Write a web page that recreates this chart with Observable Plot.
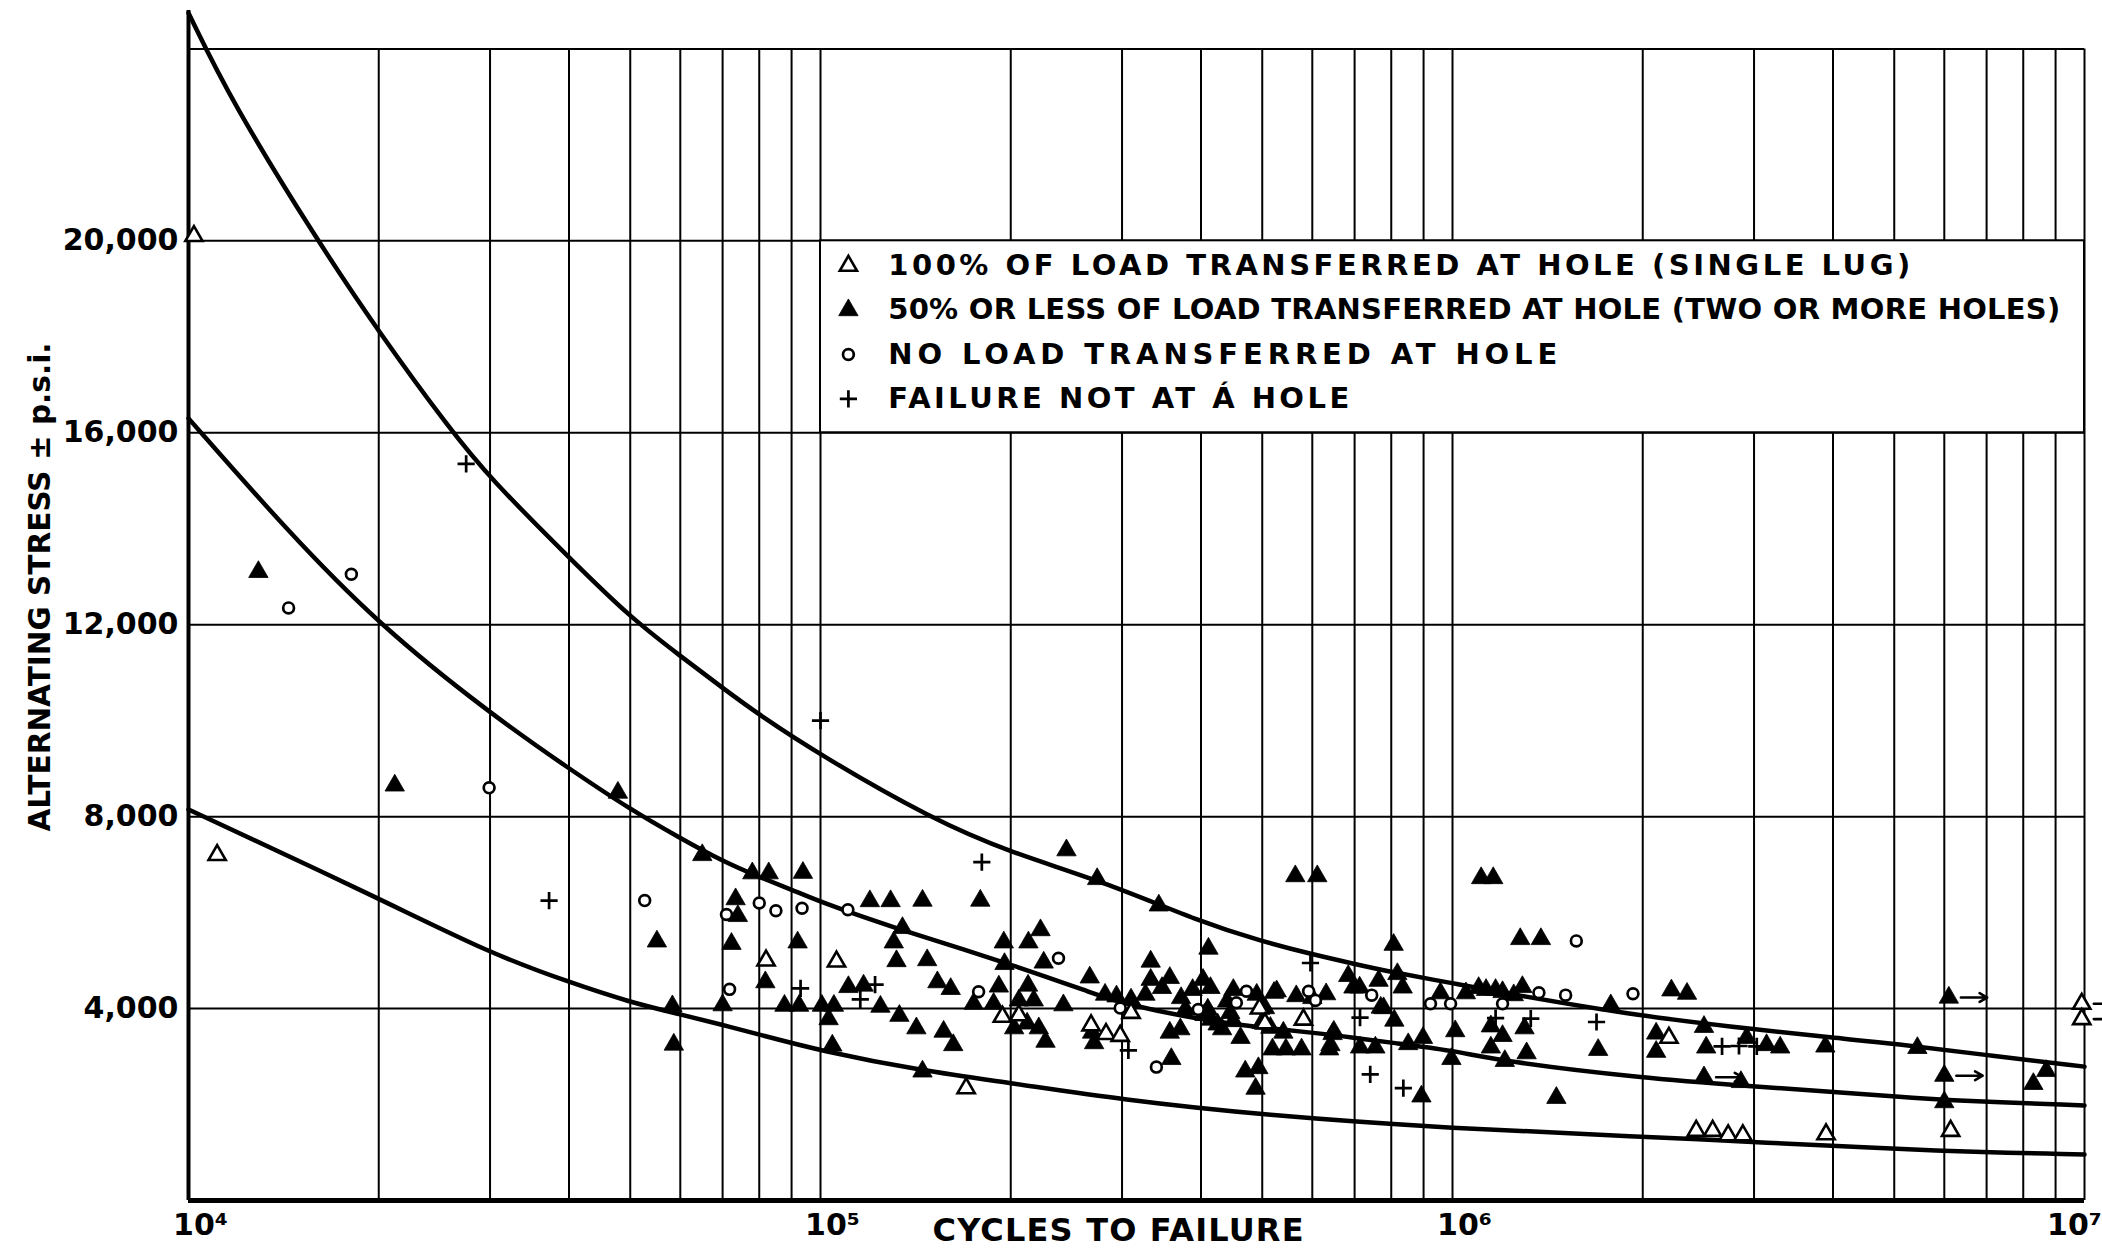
<!DOCTYPE html>
<html><head><meta charset="utf-8">
<script src="https://cdn.jsdelivr.net/npm/d3@7"></script>
<script src="https://cdn.jsdelivr.net/npm/@observablehq/plot@0.6"></script>
<style>
html,body{margin:0;padding:0;background:#fff;}
#chart{width:2102px;height:1256px;overflow:hidden;}
</style></head><body><div id="chart"></div>
<script>
// ---------- DATA ----------
const xTickValues = [1e4, 1e5, 1e6, 1e7];
const xTickLabels = ["10⁴", "10⁵", "10⁶", "10⁷"];
const yTickValues = [4000, 8000, 12000, 16000, 20000];
const yTickLabels = ["4,000", "8,000", "12,000", "16,000", "20,000"];
const gridDecades = [1e4, 1e5, 1e6];
const gridMultipliers = [1, 2, 3, 4, 5, 6, 7, 8, 9];
const gridStress = [4000, 8000, 12000, 16000, 20000, 24000];
const xLabel = "CYCLES TO FAILURE";
const yLabel = "ALTERNATING STRESS ± p.s.i.";
const legendLabels = [
  "100% OF LOAD TRANSFERRED AT HOLE (SINGLE LUG)",
  "50% OR LESS OF LOAD TRANSFERRED AT HOLE (TWO OR MORE HOLES)",
  "NO LOAD TRANSFERRED AT HOLE",
  "FAILURE NOT AT Á HOLE"
];
const legendKinds = ["openTriangle", "filledTriangle", "openCircle", "plus"];

// curves: [cycles, stress]
const upperCurve = [[1e4,24750],[1.17e4,22900],[1.6e4,20000],[2e4,18100],[2.6e4,16050],[3e4,15050],[4e4,13400],[5e4,12150],[6e4,11350],[7e4,10680],[8e4,10120],[1e5,9280],[1.5e5,7950],[2e5,7250],[2.8e5,6650],[4e5,5800],[5e5,5400],[6e5,5130],[7e5,4930],[8e5,4760],[1e6,4530],[1.2e6,4330],[2e6,3830],[3e6,3570],[4e6,3390],[5e6,3270],[7e6,3030],[1e7,2790]];
const middleCurve = [[1e4,16300],[1.43e4,13970],[2e4,12000],[3e4,10150],[4e4,9000],[5e4,8150],[6e4,7550],[7e4,7070],[8e4,6740],[9e4,6480],[1e5,6220],[1.3e5,5690],[2e5,4930],[2.75e5,4280],[3e5,4110],[4e5,3760],[5e5,3600],[6e5,3500],[7e5,3390],[8e5,3290],[1e6,3130],[1.2e6,2900],[2e6,2550],[3e6,2380],[4e6,2260],[5e6,2170],[6e6,2090],[1e7,1980]];
const lowerCurve = [[1e4,8150],[2e4,6300],[3e4,5150],[4e4,4550],[5e4,4130],[6e4,3880],[7e4,3660],[8e4,3460],[1e5,3120],[1.45e5,2700],[2e5,2450],[3e5,2100],[5e5,1780],[1e6,1500],[2e6,1330],[3e6,1220],[6e6,1020],[1e7,960]];

// points: [cycles, stress]
const openTriangles = [[10200,20100],[11100,7200],[82000,5000],[106000,4980],[170000,2340],[194000,3830],[206000,3860],[268000,3650],[283000,3470],[298000,3430],[310000,3910],[495000,4000],[505000,3690],[581000,3770],[2200000,3390],[2430000,1450],[2580000,1450],[2730000,1360],[2880000,1360],[3900000,1380],[6140000,1450],[9900000,4100],[9900000,3780]];
const filledTriangles = [[12900,13100],[21200,8650],[47800,8500],[55100,5400],[58300,4050],[58600,3250],[65000,7200],[72300,5350],[73400,6280],[74000,5930],[70000,4070],[78000,6820],[82800,6820],[81800,4550],[87700,4060],[92500,4060],[92000,5380],[93800,6830],[100500,4060],[103000,3780],[104400,3230],[105000,4060],[110700,4450],[117000,4480],[119700,6240],[124400,4040],[129100,6240],[130600,5380],[131900,4990],[133300,3850],[134800,5680],[141800,3590],[145000,6250],[145000,2690],[147500,5010],[153100,4550],[156600,3520],[160700,4410],[162200,3240],[174700,4100],[179000,6250],[187900,4100],[191500,4460],[195000,5380],[195500,4930],[202500,3590],[206000,4170],[212300,3690],[213300,5380],[213000,4480],[217500,4170],[221500,3590],[222900,5635],[225500,4960],[227000,3310],[242300,4070],[245000,7300],[266700,4650],[269000,3500],[271000,3280],[274000,6700],[282000,4290],[294000,4255],[310000,4190],[326700,4290],[333000,4600],[333000,4980],[343000,6150],[347000,4430],[357000,4640],[357000,3500],[359000,2950],[371000,3570],[372000,4220],[378000,3980],[388000,4390],[403000,4600],[405000,3870],[410000,3980],[411000,5250],[414000,4430],[415000,3770],[425000,3670],[432000,3570],[440000,4150],[445000,3910],[450000,3740],[450000,4390],[462000,3390],[470000,2690],[488000,2330],[490000,4290],[493000,2760],[499000,3700],[505000,4010],[515000,3600],[519000,3150],[522000,4330],[527000,4360],[540000,3500],[545000,3150],[564000,6760],[566000,4260],[577000,3150],[600000,4220],[611000,6760],[631000,4300],[638000,3150],[641000,3240],[646000,3470],[649000,3520],[684000,4680],[697000,4440],[713000,4440],[714000,3190],[755000,3190],[764000,4580],[770000,4020],[778000,4010],[807000,5330],[809000,3750],[818000,4720],[834000,4440],[851000,3260],[893000,2170],[898000,3390],[957000,4320],[996000,2950],[1010000,3530],[1050000,4320],[1100000,4430],[1110000,6720],[1130000,4390],[1150000,3630],[1150000,3190],[1160000,6720],[1170000,4390],[1200000,3430],[1200000,4345],[1210000,2910],[1250000,4280],[1280000,5450],[1290000,4450],[1300000,3590],[1310000,3070],[1380000,5450],[1460000,2140],[1700000,3140],[1780000,4070],[2100000,3480],[2100000,3100],[2220000,4380],[2350000,4310],[2500000,3620],[2520000,3190],[2500000,2570],[2860000,2470],[2920000,3390],[3140000,3240],[3300000,3190],[3890000,3210],[5440000,3180],[6100000,4230],[6000000,2600],[6000000,2050],[8300000,2430],[8700000,2700]];
const openCircles = [[14400,12350],[18100,13050],[29900,8600],[52700,6250],[71000,5960],[71800,4400],[80000,6200],[85000,6040],[93500,6090],[110500,6060],[177900,4350],[238000,5050],[298000,4010],[340000,2780],[396000,3980],[455000,4120],[472000,4360],[592000,4360],[607000,4170],[745000,4280],[923000,4100],[993000,4100],[1200000,4100],[1370000,4330],[1510000,4280],[1570000,5410],[1930000,4310]];
const plusMarks = [[27500,15350],[37200,6250],[93000,4420],[100000,10000],[115600,4190],[122000,4500],[180000,7050],[307000,3130],[596000,4950],[714000,3810],[741000,2630],[836000,2340],[1170000,3800],[1330000,3790],[1690000,3720],[2670000,3210],[2840000,3220],[3030000,3210]];
// specimens that did not fail (drawn with an arrow)
const runouts = [[2500000,2570],[6100000,4230],[6000000,2600],[9900000,4100],[9900000,3780]];

// ---------- LAYOUT / STYLE ----------
const FONT = "'DejaVu Sans', 'Liberation Sans', sans-serif";
const markerStyle = {
  openTriangle: {symbol: "triangle", r: 6.4, fill: "white", stroke: "black", strokeWidth: 2.6},
  filledTriangle: {symbol: "triangle", r: 7.2, fill: "black", stroke: "black", strokeWidth: 0.8},
  openCircle: {symbol: "circle", r: 5.4, fill: "white", stroke: "black", strokeWidth: 2.7},
  plus: {symbol: "plus", r: 5.6, fill: "none", stroke: "black", strokeWidth: 2.7}
};
const legendSymbolN = 1.107e5, legendTextN = 1.28e5, legendTopS = 19480, legendStepS = 924;
const textWidths = new Map([
  [legendLabels[0], 1022], [legendLabels[1], 1172], [legendLabels[2], 669], [legendLabels[3], 461],
  [yLabel, 489], [xLabel, 371]
]);

const rows = (arr) => arr.map(([n, s]) => ({n, s}));
const gridX = gridDecades.flatMap(d => gridMultipliers.map(m => d * m)).concat([xTickValues[xTickValues.length - 1]]);
const [yMin, yMax] = [0, 24800];

const legendMarks = legendKinds.map((k, i) =>
  Plot.dot([i], {x: () => legendSymbolN, y: () => legendTopS - i * legendStepS, ...markerStyle[k]}));

const xFmt = d => xTickLabels[xTickValues.indexOf(d)];
const chart = Plot.plot({
  width: 2102, height: 1256,
  marginLeft: 188, marginRight: 18, marginTop: 10, marginBottom: 56,
  style: {fontFamily: FONT, background: "white", color: "black", overflow: "visible"},
  x: {type: "log", domain: [xTickValues[0], xTickValues[3]]},
  y: {domain: [yMin, yMax]},
  marks: [
    Plot.ruleX(gridX, {y1: 0, y2: gridStress[gridStress.length - 1], stroke: "black", strokeWidth: 2}),
    Plot.ruleY(gridStress, {stroke: "black", strokeWidth: 2}),
    Plot.rect([0], {x1: () => xTickValues[1], x2: () => xTickValues[3], y1: () => gridStress[3], y2: () => gridStress[4], fill: "white", stroke: "black", strokeWidth: 2}),
    Plot.ruleY([0], {stroke: "black", strokeWidth: 5}),
    Plot.ruleX([xTickValues[0]], {y1: yMin, y2: yMax, stroke: "black", strokeWidth: 4}),
    Plot.line(rows(upperCurve), {x: "n", y: "s", curve: "basis", stroke: "black", strokeWidth: 4.5}),
    Plot.line(rows(middleCurve), {x: "n", y: "s", curve: "basis", stroke: "black", strokeWidth: 4.5}),
    Plot.line(rows(lowerCurve), {x: "n", y: "s", curve: "basis", stroke: "black", strokeWidth: 4.5}),
    Plot.arrow(rows(runouts), {x1: d => d.n * 1.045, x2: d => d.n * 1.15, y1: "s", y2: "s", stroke: "black", strokeWidth: 2.6, headLength: 7}),
    Plot.dot(rows(filledTriangles), {x: "n", y: "s", ...markerStyle.filledTriangle}),
    Plot.dot(rows(openTriangles), {x: "n", y: "s", ...markerStyle.openTriangle}),
    Plot.dot(rows(openCircles), {x: "n", y: "s", ...markerStyle.openCircle}),
    Plot.dot(rows(plusMarks), {x: "n", y: "s", ...markerStyle.plus}),
    ...legendMarks,
    Plot.text(legendLabels, {x: () => legendTextN, y: (d, i) => legendTopS - i * legendStepS, text: d => d,
      textAnchor: "start", fontSize: 29, fontWeight: "bold", fill: "black"}),
    Plot.axisX({ticks: xTickValues.slice(0, 3), tickFormat: xFmt, tickSize: 0, tickPadding: 13,
      fontSize: 30, fontWeight: "bold", dx: 12, label: null}),
    Plot.axisX({ticks: xTickValues.slice(3), tickFormat: xFmt, tickSize: 0, tickPadding: 13,
      fontSize: 30, fontWeight: "bold", dx: -10, label: null}),
    Plot.axisY({ticks: yTickValues, tickFormat: d => yTickLabels[yTickValues.indexOf(d)], tickSize: 0, tickPadding: 10,
      fontSize: 30, fontWeight: "bold", label: null}),
    Plot.text([xLabel], {frameAnchor: "bottom", textAnchor: "start", dx: -204, dy: 40, fontSize: 32, fontWeight: "bold", fill: "black"}),
    Plot.text([yLabel], {frameAnchor: "left", rotate: -90, textAnchor: "start", dx: -148, dy: 226, fontSize: 31, fontWeight: "bold", fill: "black"})
  ]
});

document.getElementById("chart").appendChild(chart);
d3.select(chart).selectAll("text").each(function () {
  const w = textWidths.get(this.textContent);
  if (w) {
    const natural = this.getComputedTextLength();
    this.setAttribute("textLength", w);
    this.setAttribute("lengthAdjust", natural > w ? "spacingAndGlyphs" : "spacing");
  }
});
</script>
</body></html>
